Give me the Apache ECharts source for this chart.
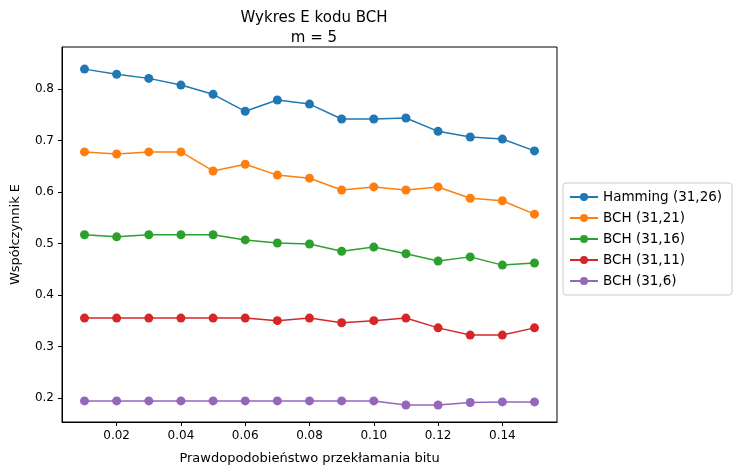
<!DOCTYPE html>
<html>
<head>
<meta charset="utf-8">
<script src="https://cdn.jsdelivr.net/npm/echarts@6/dist/echarts.min.js"></script>
<style>html,body{margin:0;padding:0;background:#fff}#c{width:747px;height:476px}</style>
</head>
<body>
<div id="c"></div>
<script>
// dane
var p = [0.01, 0.02, 0.03, 0.04, 0.05, 0.06, 0.07, 0.08, 0.09, 0.10, 0.11, 0.12, 0.13, 0.14, 0.15];
var names = ["Hamming (31,26)", "BCH (31,21)", "BCH (31,16)", "BCH (31,11)", "BCH (31,6)"];
var colors = ["#1f77b4", "#ff7f0e", "#2ca02c", "#d62728", "#9467bd"];
var hamming = [0.839, 0.829, 0.821, 0.808, 0.790, 0.757, 0.779, 0.771, 0.742, 0.742, 0.744, 0.718, 0.707, 0.703, 0.680];
var bch21 = [0.678, 0.674, 0.678, 0.678, 0.641, 0.654, 0.633, 0.627, 0.604, 0.610, 0.604, 0.610, 0.588, 0.583, 0.557];
var bch16 = [0.517, 0.513, 0.517, 0.517, 0.517, 0.507, 0.501, 0.499, 0.485, 0.493, 0.480, 0.466, 0.474, 0.458, 0.462];
var bch11 = [0.355, 0.355, 0.355, 0.355, 0.355, 0.355, 0.350, 0.355, 0.346, 0.350, 0.355, 0.336, 0.322, 0.322, 0.336];
var bch6 = [0.194, 0.194, 0.194, 0.194, 0.194, 0.194, 0.194, 0.194, 0.194, 0.194, 0.186, 0.186, 0.191, 0.192, 0.192];
var xTicks = [0.02, 0.04, 0.06, 0.08, 0.10, 0.12, 0.14];
var yTicks = [0.2, 0.3, 0.4, 0.5, 0.6, 0.7, 0.8];

var all = [hamming, bch21, bch16, bch11, bch6];
var font = "DejaVu Sans";
var myChart = echarts.init(document.getElementById("c"));
var option = {
    animation: false,
    textStyle: { fontFamily: font },
    title: {
        text: "Wykres E kodu BCH\nm = 5",
        left: 309, top: 3, textAlign: "center",
        textStyle: { fontFamily: font, fontSize: 15, fontWeight: "normal", color: "#000", lineHeight: 20 }
    },
    legend: {
        orient: "vertical", left: 563, top: 183,
        itemWidth: 28, itemHeight: 10, itemGap: 7,
        padding: [7, 10, 7, 6],
        borderColor: "#ccc", borderWidth: 1, borderRadius: 3,
        textStyle: { fontFamily: font, fontSize: 13.5, color: "#000" },
        data: names
    },
    grid: { left: 62, top: 47, width: 495, height: 375, show: true, borderColor: "#000", borderWidth: 1 },
    xAxis: {
        type: "value", min: 0.003, max: 0.157,
        name: "Prawdopodobieństwo przekłamania bitu", nameLocation: "middle", nameGap: 30,
        nameTextStyle: { fontFamily: font, fontSize: 13, color: "#000" },
        axisLine: { show: true, onZero: false, lineStyle: { color: "#000" } },
        axisTick: { show: true, customValues: xTicks, length: 4, lineStyle: { color: "#000" } },
        axisLabel: { customValues: xTicks, fontSize: 12, color: "#000", formatter: function (v) { return v.toFixed(2); } },
        splitLine: { show: false }
    },
    yAxis: {
        type: "value", min: 0.153, max: 0.882,
        name: "Współczynnik E", nameLocation: "middle", nameGap: 40,
        nameTextStyle: { fontFamily: font, fontSize: 13, color: "#000" },
        axisLine: { show: true, onZero: false, lineStyle: { color: "#000" } },
        axisTick: { show: true, customValues: yTicks, length: 4, lineStyle: { color: "#000" } },
        axisLabel: { customValues: yTicks, fontSize: 12, color: "#000", formatter: function (v) { return v.toFixed(1); } },
        splitLine: { show: false }
    },
    series: names.map(function (n, i) {
        return {
            name: n, type: "line", symbol: "circle", symbolSize: 9,
            itemStyle: { color: colors[i] },
            lineStyle: { width: 1.5, color: colors[i] },
            data: p.map(function (x, j) { return [x, all[i][j]]; })
        };
    })
};
myChart.setOption(option);
</script>
</body>
</html>
